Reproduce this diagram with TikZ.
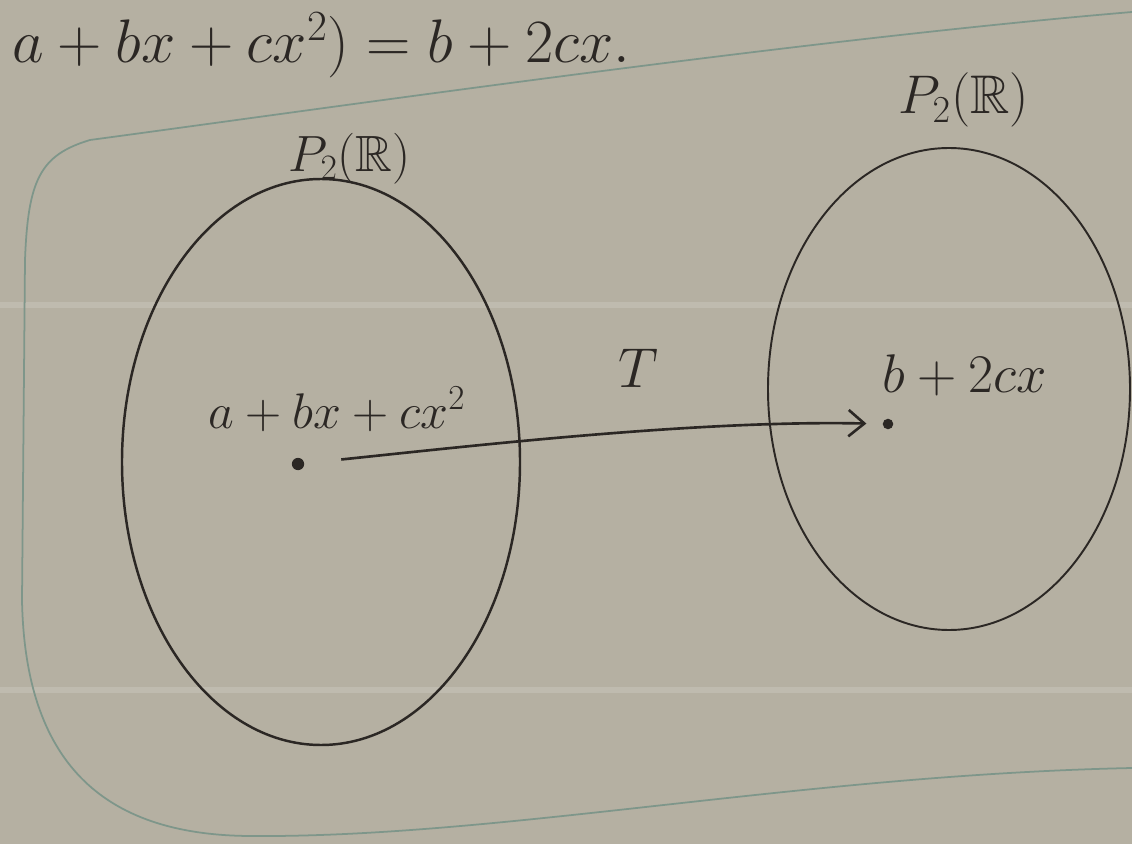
\documentclass[tikz,border=0pt]{standalone}
\usepackage{fix-cm}
\usepackage{amssymb}
\usetikzlibrary{arrows.meta,positioning}
\definecolor{paper}{HTML}{B5B0A2}
\definecolor{ink}{HTML}{2B2724}
\definecolor{frame}{HTML}{7E968A}

\begin{document}
\begin{tikzpicture}[x=0.02cm, y=-0.02cm]
        \tikzstyle{set} = [draw=ink, line width=1.4pt]
        \tikzstyle{dot} = [circle, fill=ink, inner sep=0pt, minimum size=7pt]
        \tikzstyle{lbl} = [text=ink, inner sep=0pt]
        \tikzstyle{maparrow} = [draw=ink, line width=1.5pt, -{Straight Barb[length=9pt,width=15pt]}]

        \fill[paper] (0,0) rectangle (1132,844);
        \useasboundingbox (0,0) rectangle (1132,844);

        % faint ruling of the page
        \foreach \y in {305,690} {
            \draw[white!14!paper, line width=3pt] (0,\y) -- (1132,\y);
        }

        % outline round the sketch
        \draw[frame, line width=1pt] (1132,12) .. controls (800,40) and (350,105) .. (90,140)
            .. controls (40,155) and (28,180) .. (25,260) -- (22,600)
            .. controls (25,760) and (100,835) .. (250,836)
            .. controls (500,838) and (800,775) .. (1132,768);

        \node[lbl, anchor=base west] (rule) at (12,63) {\fontsize{35}{42}\selectfont $a+bx+cx^2)=b+2cx.$};

        % the two spaces
        \draw[set] (321,462) ellipse [x radius=199, y radius=283];
        \draw[set, line width=1.1pt] (949,389) ellipse [x radius=181, y radius=241];
        \node[lbl, anchor=base west] (domain) at (288,172) {\fontsize{29}{35}\selectfont $P_2(\mathbb{R})$};
        \node[lbl, anchor=base west] (codomain) at (898,114) {\fontsize{31}{37}\selectfont $P_2(\mathbb{R})$};

        % points and the map
        \node[dot] (p) at (298,464) {};
        \node[dot, minimum size=6pt] (q) at (888,424) {};
        \node[lbl, anchor=base west] (plbl) at (208,428) {\fontsize{28.5}{34}\selectfont $a+bx+cx^2$};
        \node[lbl, anchor=base west] (qlbl) at (882,392) {\fontsize{31}{37}\selectfont $b+2cx$};
        \node[lbl] (tlbl) at (638,368) {\fontsize{32}{38}\selectfont $T$};

        \draw[maparrow, shorten <=0.74cm, shorten >=0.32cm] (p) .. controls (480,445) and (700,420) .. (q);
    \end{tikzpicture}
\end{document}
